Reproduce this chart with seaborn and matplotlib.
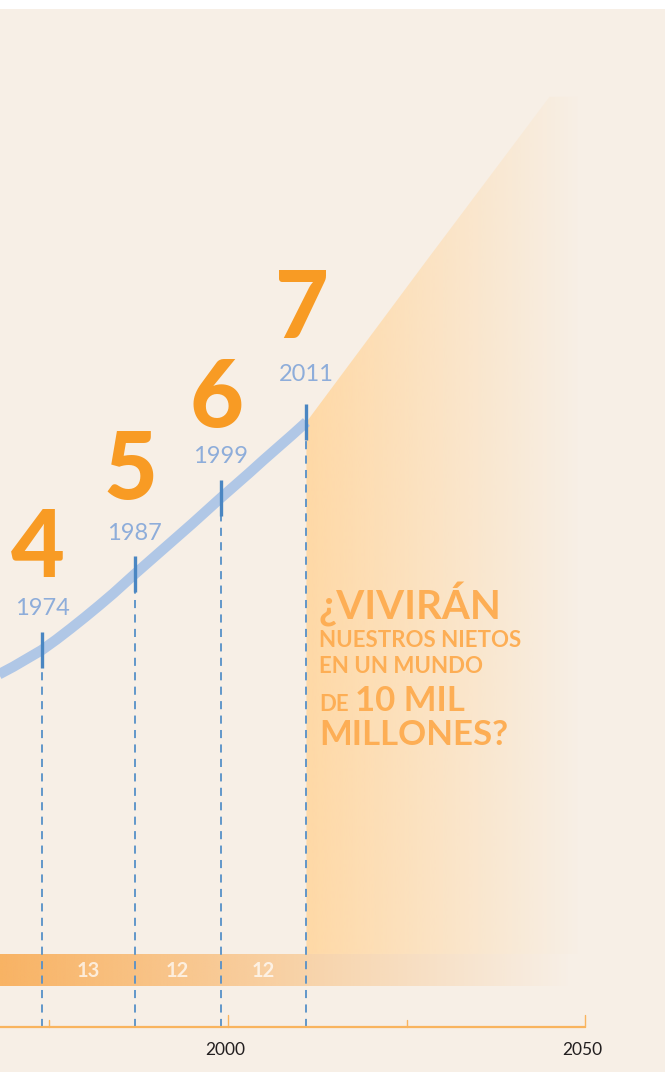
import numpy as np
import seaborn as sns
import matplotlib.pyplot as plt
from matplotlib.colors import to_rgb

sns.set_theme(style="white")
plt.rcParams["font.family"] = ["Lato", "DejaVu Sans"]

# Data (population in billions)
curve_years = [1966, 1968, 1970, 1972, 1974, 1976, 1978, 1980, 1982, 1984, 1986, 1987,
               1989, 1991, 1993, 1995, 1997, 1999, 2001, 2003, 2005, 2007, 2009, 2011]
curve_pop = [3.58, 3.68, 3.78, 3.89, 4.0, 4.135, 4.28, 4.43, 4.585, 4.745, 4.915, 5.0,
             5.165, 5.33, 5.495, 5.66, 5.83, 6.0, 6.165, 6.33, 6.5, 6.665, 6.83, 7.0]

milestone_years = [1974, 1987, 1999, 2011]
milestone_pop = [4, 5, 6, 7]
milestone_labels = ["4", "5", "6", "7"]

gap_labels = ["13", "12", "12"]

proj_years = [2011, 2028, 2045, 2049]
proj_upper = [7.0, 9.15, 11.28, 11.28]

tick_years = [1975, 2000, 2025, 2050]
tick_labels = ["", "2000", "", "2050"]

# layout offsets for the milestone texts (above each marker)
year_off = [0.46, 0.45, 0.46, 0.54]
num_off = [0.96, 0.99, 0.93, 1.10]

# Colours
BG = "#F7EFE6"
PEACH = "#FFD9A6"
BAR = "#F9B262"
CURVE = "#B0C7E6"
MARK = "#4A86C2"
DASH = "#5690C8"
NUM = "#F89B24"
YEARTXT = "#8EADDA"
QTXT = "#FDAE55"
AXIS = "#F9B45E"

x0, x1 = 1968.14, 2061.15
y0, y1 = -1.553, 12.553
axis_y = -0.96

fig = plt.figure(figsize=(6.65, 10.72), dpi=100, facecolor="white")
ax = fig.add_axes([0, 0, 1, 1])

# beige page (white strip on top)
ax.axhspan(y0 - 1, 12.43, color=BG, lw=0, zorder=0)

# projection area with a fading gradient
poly = ax.fill_between(proj_years, 0, proj_upper, color="none", lw=0)
n = 400
xs = np.linspace(2011, 2050, n)
alpha = np.clip(1 - (xs - 2011) / 38.5, 0, 1)
img = np.zeros((1, n, 4))
img[..., :3] = to_rgb(PEACH)
img[0, :, 3] = alpha
im = ax.imshow(img, extent=[2011, 2050, 0, 11.5], aspect="auto", origin="lower",
               zorder=1, interpolation="bilinear")
im.set_clip_path(poly.get_paths()[0], transform=ax.transData)

# horizontal band at the bottom
xs_b = np.linspace(x0 - 1, 2048, n)
alpha_b = np.clip(1 - (xs_b - (x0 - 1)) / (2048 - x0 + 1), 0, 1)
img_b = np.zeros((1, n, 4))
img_b[..., :3] = to_rgb(BAR)
img_b[0, :, 3] = alpha_b
ax.imshow(img_b, extent=[x0 - 1, 2048, -0.42, 0.0], aspect="auto", origin="lower",
          zorder=1.5, interpolation="bilinear")

for i, lab in enumerate(gap_labels):
    xm = (milestone_years[i] + milestone_years[i + 1]) / 2
    ax.text(xm, -0.22, lab, ha="center", va="center", fontsize=14.5, fontweight="bold",
            color="white", alpha=0.72, zorder=3)

# population curve
sns.lineplot(x=curve_years, y=curve_pop, ax=ax, color=CURVE, lw=7.5,
             solid_capstyle="butt", zorder=3)

# milestone markers and dashed guides
mp = np.array(milestone_pop, dtype=float)
ax.vlines(milestone_years, axis_y, mp - 0.24, colors=DASH, lw=1.3,
          linestyles=(0, (4.5, 3.5)), zorder=2)
ax.vlines(milestone_years, mp - 0.24, mp + 0.24, colors=MARK, lw=2.4, zorder=4)

for i, (yr, p, lab) in enumerate(zip(milestone_years, milestone_pop, milestone_labels)):
    ax.text(yr, p + year_off[i], str(yr), ha="center", va="baseline", fontsize=17,
            color=YEARTXT, zorder=4)
    ax.text(yr - 0.6, p + num_off[i], lab, ha="center", va="baseline", fontsize=67,
            fontweight="black", color=NUM, zorder=4)

# time axis
ax.plot([x0 - 1, 2050], [axis_y, axis_y], color=AXIS, lw=1.6, zorder=2,
        solid_capstyle="butt")
for yr, lab in zip(tick_years, tick_labels):
    h = 0.16 if lab else 0.09
    ax.plot([yr, yr], [axis_y, axis_y + h], color=AXIS, lw=1.0, zorder=2)
    if lab:
        ax.text(yr - 0.4, axis_y - 0.30, lab, ha="center", va="center", fontsize=12.5,
                color="#231F20")

# question text
qx = 2012.75
ax.text(qx, 4.395, "¿VIVIRÁN", fontsize=29, fontweight="bold", color=QTXT,
        va="baseline", ha="left", zorder=4)
ax.text(qx, 4.04, "NUESTROS NIETOS", fontsize=16, fontweight="bold", color=QTXT,
        va="baseline", ha="left", zorder=4)
ax.text(qx, 3.70, "EN UN MUNDO", fontsize=16, fontweight="bold", color=QTXT,
        va="baseline", ha="left", zorder=4)
ax.text(qx, 3.20, "DE", fontsize=16, fontweight="bold", color=QTXT,
        va="baseline", ha="left", zorder=4)
ax.text(2017.8, 3.20, "10 MIL", fontsize=25, fontweight="bold", color=QTXT,
        va="baseline", ha="left", zorder=4)
ax.text(qx, 2.75, "MILLONES?", fontsize=25, fontweight="bold", color=QTXT,
        va="baseline", ha="left", zorder=4)

ax.set_xlim(x0, x1)
ax.set_ylim(y0, y1)
ax.set_axis_off()

fig.savefig("out.png", dpi=100, facecolor="white")
